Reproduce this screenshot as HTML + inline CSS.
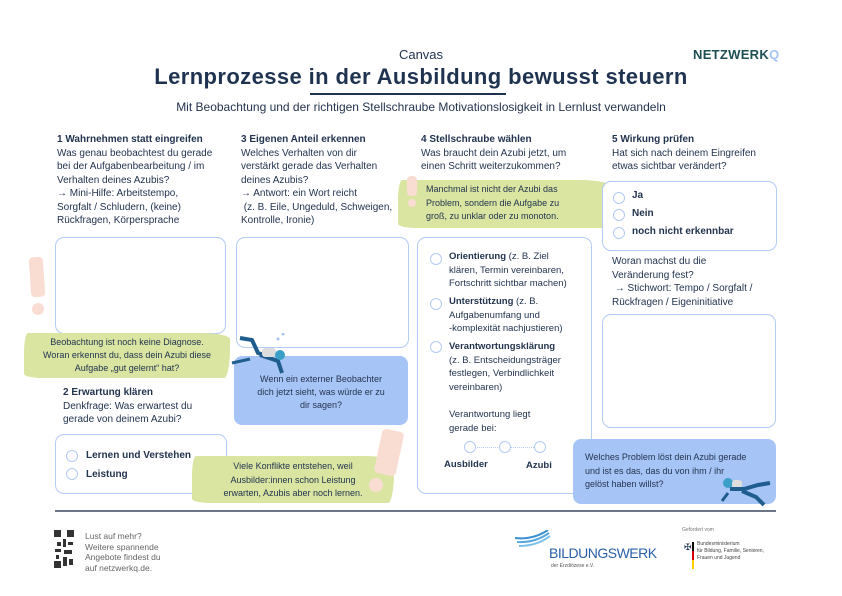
<!DOCTYPE html>
<html><head><meta charset="utf-8">
<style>
*{margin:0;padding:0;box-sizing:border-box}
body{width:842px;height:596px;background:#fff;position:relative;overflow:hidden;font-family:"Liberation Sans",sans-serif;color:#23344f}
.a{position:absolute}
.t{font-size:10px;line-height:13.5px;white-space:nowrap}
.b{font-weight:bold}
.box{position:absolute;border:1.5px solid #b3cbf5;border-radius:9px;background:#fff}
.blue{position:absolute;background:#a7c4f6;border-radius:8px}
.green{position:absolute;background:#d9e5a1;border-radius:4px 30px 6px 20px/20px 6px 30px 4px}
.r{position:absolute;width:12px;height:12px;border:1.5px solid #b3cbf5;border-radius:50%;background:#fff}
.ex{position:absolute;background:#f9ddd3;border-radius:4px}
.dot{position:absolute;background:#f9ddd3;border-radius:50%}
</style></head><body>

<div class="a" style="left:0;width:842px;top:47px;text-align:center;font-size:13px">Canvas</div>
<div class="a" style="left:0;width:842px;top:64px;text-align:center;font-size:22px;font-weight:bold;letter-spacing:0.4px;color:#1f3350">Lernprozesse in der Ausbildung bewusst steuern</div>
<div class="a" style="left:310px;top:93px;width:196px;height:1.5px;background:#1f3350"></div>
<div class="a" style="left:0;width:842px;top:100px;text-align:center;font-size:12px">Mit Beobachtung und der richtigen Stellschraube Motivationslosigkeit in Lernlust verwandeln</div>
<div class="a b" style="left:693px;top:47px;font-size:13px;color:#1e4f52;letter-spacing:0.3px">NETZWERK<span style="color:#a7c4f6">Q</span></div>

<!-- col1 -->
<div class="a t" style="left:57px;top:133px"><span class="b">1 Wahrnehmen statt eingreifen</span><br>Was genau beobachtest du gerade<br>bei der Aufgabenbearbeitung / im<br>Verhalten deines Azubis?<br>→ Mini-Hilfe: Arbeitstempo,<br>Sorgfalt / Schludern, (keine)<br>Rückfragen, Körpersprache</div>
<div class="box" style="left:55px;top:237px;width:171px;height:97px"></div>
<div class="ex" style="left:30px;top:257px;width:14px;height:40px;transform:rotate(-4deg)"></div>
<div class="dot" style="left:32px;top:303px;width:12px;height:12px"></div>
<div class="green" style="left:24px;top:333px;width:206px;height:45px"></div>
<div class="a t" style="left:24px;width:206px;top:336px;text-align:center;font-size:9px;line-height:13px">Beobachtung ist noch keine Diagnose.<br>Woran erkennst du, dass dein Azubi diese<br>Aufgabe „gut gelernt“ hat?</div>
<div class="a t" style="left:63px;top:386px"><span class="b">2 Erwartung klären</span><br>Denkfrage: Was erwartest du<br>gerade von deinem Azubi?</div>
<div class="box" style="left:55px;top:434px;width:172px;height:60px"></div>
<div class="r" style="left:66px;top:450px"></div><div class="a t b" style="left:86px;top:449px">Lernen und Verstehen</div>
<div class="r" style="left:66px;top:468px"></div><div class="a t b" style="left:86px;top:468px">Leistung</div>

<!-- col3 -->
<div class="a t" style="left:241px;top:133px"><span class="b">3 Eigenen Anteil erkennen</span><br>Welches Verhalten von dir<br>verstärkt gerade das Verhalten<br>deines Azubis?<br>→ Antwort: ein Wort reicht<br>&nbsp;(z. B. Eile, Ungeduld, Schweigen,<br>Kontrolle, Ironie)</div>
<div class="box" style="left:236px;top:237px;width:173px;height:111px"></div>
<div class="blue" style="left:234px;top:356px;width:174px;height:69px"></div>
<div class="a t" style="left:234px;width:174px;top:373px;text-align:center;font-size:9px;line-height:13px">Wenn ein externer Beobachter<br>dich jetzt sieht, was würde er zu<br>dir sagen?</div>
<svg class="a" style="left:230px;top:333px" width="60" height="42"><path d="M10 5 L22 7 L28 20 L40 24" stroke="#1f5d8e" stroke-width="4" fill="none"/><path d="M30 22 L48 28 L52 40" stroke="#1f5d8e" stroke-width="4" fill="none"/><rect x="32" y="15" width="14" height="9" rx="3" fill="#ddd"/><circle cx="50" cy="22" r="5" fill="#3aa0c8"/><circle cx="48" cy="6" r="1.5" fill="#a7c4f6"/><circle cx="53" cy="1" r="1.5" fill="#a7c4f6"/><path d="M2 30 L20 26" stroke="#1f5d8e" stroke-width="3"/></svg>
<div class="green" style="left:192px;top:456px;width:202px;height:47px"></div>
<div class="a t" style="left:192px;width:202px;top:460px;text-align:center;font-size:9px;line-height:13.5px">Viele Konflikte entstehen, weil<br>Ausbilder:innen schon Leistung<br>erwarten, Azubis aber noch lernen.</div>
<div class="ex" style="left:378px;top:430px;width:22px;height:45px;transform:rotate(12deg)"></div>
<div class="dot" style="left:369px;top:478px;width:14px;height:14px"></div>

<!-- col4 -->
<div class="a t" style="left:421px;top:133px"><span class="b">4 Stellschraube wählen</span><br>Was braucht dein Azubi jetzt, um<br>einen Schritt weiterzukommen?</div>
<div class="green" style="left:398px;top:180px;width:212px;height:48px"></div>
<div class="ex" style="left:407px;top:176px;width:10px;height:20px"></div><div class="dot" style="left:408px;top:199px;width:8px;height:8px"></div>
<div class="a t" style="left:426px;top:183px;font-size:9px;line-height:13.5px">Manchmal ist nicht der Azubi das<br>Problem, sondern die Aufgabe zu<br>groß, zu unklar oder zu monoton.</div>
<div class="box" style="left:417px;top:237px;width:175px;height:257px"></div>
<div class="r" style="left:430px;top:253px"></div>
<div class="a t" style="left:449px;top:250px;font-size:9.5px"><span class="b">Orientierung</span> (z. B. Ziel<br>klären, Termin vereinbaren,<br>Fortschritt sichtbar machen)</div>
<div class="r" style="left:430px;top:298px"></div>
<div class="a t" style="left:449px;top:295px;font-size:9.5px"><span class="b">Unterstützung</span> (z. B.<br>Aufgabenumfang und<br>-komplexität nachjustieren)</div>
<div class="r" style="left:430px;top:341px"></div>
<div class="a t" style="left:449px;top:340px;font-size:9.5px"><span class="b">Verantwortungsklärung</span><br>(z. B. Entscheidungsträger<br>festlegen, Verbindlichkeit<br>vereinbaren)</div>
<div class="a t" style="left:449px;top:408px;font-size:9.5px">Verantwortung liegt<br>gerade bei:</div>
<div class="a" style="left:470px;top:447px;width:70px;border-top:1px dotted #b3cbf5"></div>
<div class="r" style="left:464px;top:441px"></div><div class="r" style="left:499px;top:441px"></div><div class="r" style="left:534px;top:441px"></div>
<div class="a t b" style="left:444px;top:458px;font-size:9.5px">Ausbilder</div>
<div class="a t b" style="left:526px;top:459px;font-size:9.5px">Azubi</div>

<!-- col5 -->
<div class="a t" style="left:612px;top:133px"><span class="b">5 Wirkung prüfen</span><br>Hat sich nach deinem Eingreifen<br>etwas sichtbar verändert?</div>
<div class="box" style="left:602px;top:181px;width:175px;height:70px"></div>
<div class="r" style="left:613px;top:192px"></div><div class="a t b" style="left:632px;top:189px">Ja</div>
<div class="r" style="left:613px;top:209px"></div><div class="a t b" style="left:632px;top:207px">Nein</div>
<div class="r" style="left:613px;top:227px"></div><div class="a t b" style="left:632px;top:225px">noch nicht erkennbar</div>
<div class="a t" style="left:612px;top:255px">Woran machst du die<br>Veränderung fest?<br>&nbsp;→ Stichwort: Tempo / Sorgfalt /<br>Rückfragen / Eigeninitiative</div>
<div class="box" style="left:602px;top:314px;width:174px;height:114px"></div>
<div class="blue" style="left:573px;top:439px;width:203px;height:65px"></div>
<div class="a t" style="left:585px;top:451px;font-size:9px;line-height:13.5px">Welches Problem löst dein Azubi gerade<br>und ist es das, das du von ihm / ihr<br>gelöst haben willst?</div>
<svg class="a" style="left:720px;top:475px" width="56" height="34"><circle cx="8" cy="8" r="5" fill="#3aa0c8"/><rect x="12" y="5" width="10" height="8" rx="3" fill="#ddd"/><path d="M10 14 L24 14 L38 10 L50 8" stroke="#1f5d8e" stroke-width="4" fill="none"/><path d="M22 16 L36 22 L44 30" stroke="#1f5d8e" stroke-width="4" fill="none"/><path d="M8 18 L2 26" stroke="#1f5d8e" stroke-width="3"/></svg>

<div class="a" style="left:55px;top:510px;width:721px;height:2px;background:#6b7587"></div>

<!-- footer -->
<svg class="a" style="left:54px;top:530px" width="20" height="38"><rect x="0" y="0" width="20" height="38" fill="#fff"/><g fill="#333"><rect x="0" y="0" width="7" height="7"/><rect x="13" y="0" width="7" height="7"/><rect x="0" y="31" width="7" height="7"/><rect x="3" y="12" width="4" height="4"/><rect x="9" y="9" width="3" height="8"/><rect x="14" y="12" width="5" height="3"/><rect x="1" y="19" width="6" height="3"/><rect x="10" y="20" width="8" height="4"/><rect x="2" y="25" width="3" height="4"/><rect x="9" y="27" width="4" height="9"/><rect x="15" y="29" width="4" height="6"/></g></svg>
<div class="a t" style="left:85px;top:531px;font-size:8.5px;line-height:10.5px;color:#666">Lust auf mehr?<br>Weitere spannende<br>Angebote findest du<br>auf netzwerkq.de.</div>
<svg class="a" style="left:513px;top:530px" width="40" height="22"><path d="M2 8 Q20 10 35 0" stroke="#3a8fd0" stroke-width="2" fill="none"/><path d="M4 12 Q22 13 36 3" stroke="#5aa8e0" stroke-width="2" fill="none"/><path d="M6 16 Q24 16 37 6" stroke="#7ac0ea" stroke-width="2" fill="none"/></svg>
<div class="a" style="left:549px;top:545px;font-size:14px;color:#2a5fa8;letter-spacing:-0.5px">BILDUNGSWERK</div>
<div class="a" style="left:551px;top:563px;font-size:5px;color:#555">der Erzdiözese e.V.</div>
<div class="a" style="left:682px;top:527px;font-size:5px;color:#777">Gefördert vom</div>
<div class="a" style="left:684px;top:542px;font-size:9px">✠</div>
<div class="a" style="left:692px;top:542px;width:2px;height:27px;background:linear-gradient(#000 33%,#d00 33% 66%,#fc0 66%)"></div>
<div class="a" style="left:697px;top:541px;font-size:5px;line-height:7px;color:#444">Bundesministerium<br>für Bildung, Familie, Senioren,<br>Frauen und Jugend</div>
</body></html>
